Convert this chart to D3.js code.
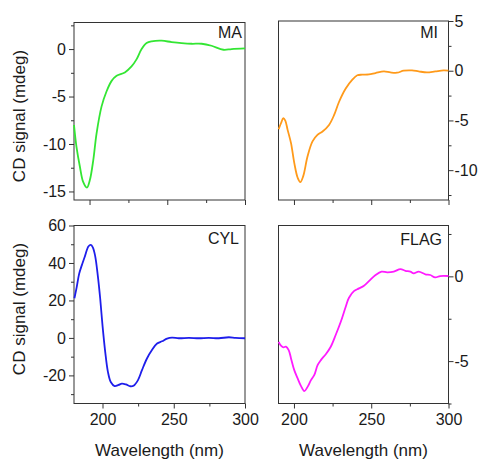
<!DOCTYPE html>
<html>
<head>
<meta charset="utf-8">
<script src="https://cdn.jsdelivr.net/npm/d3@7"></script>
<style>
  html, body { margin: 0; padding: 0; background: #fff; }
  svg { display: block; }
  text { font-family: "Liberation Sans", Arial, sans-serif; fill: #1a1a1a; }
</style>
</head>
<body>
<svg id="chart" width="479" height="462"></svg>
<script>
// ---- Data ----
const maWl = [190, 191.6, 193.8, 195.9, 198.3, 200.2, 202.4, 204.5, 207.7, 210.9, 214.2, 217.4, 222.7, 227.0, 230.3, 233.5, 236.7, 239.9, 246.4, 252.8, 259.2, 265.7, 272.1, 278.5, 286.1, 291.4, 300];
const maCd = [-8.0, -10.3, -12.4, -14.0, -14.6, -13.8, -11.7, -8.9, -6.06, -4.47, -3.35, -2.82, -2.46, -1.83, -1.06, 0.0, 0.63, 0.81, 0.88, 0.74, 0.63, 0.56, 0.56, 0.35, -0.07, 0.0, 0.07];

const miWl = [190.1, 191.6, 193.1, 194.4, 195.9, 198.1, 200.2, 202.4, 204.1, 206.0, 208.8, 212.0, 215.2, 218.5, 222.7, 226.0, 229.2, 233.5, 237.8, 241.0, 244.2, 248.5, 252.8, 258.2, 262.4, 266.7, 271.0, 276.4, 280.7, 286.1, 291.4, 296.8, 300];
const miCd = [-5.88, -5.28, -4.78, -5.02, -5.95, -7.28, -9.27, -10.76, -11.2, -10.6, -8.6, -7.1, -6.45, -6.11, -5.45, -4.45, -3.12, -1.79, -0.9, -0.46, -0.4, -0.37, -0.23, -0.07, -0.17, -0.2, 0.0, 0.03, -0.07, -0.17, -0.07, 0.03, 0.0];

const cylWl = [180.3, 181.9, 183.6, 185.4, 187.8, 190.1, 191.8, 193.2, 194.8, 196.7, 198.4, 200, 201.9, 203.8, 205.9, 208.5, 211.3, 213.6, 216.4, 219.5, 221.8, 224.9, 227.7, 231.2, 234.7, 238.3, 241.8, 245.3, 248.8, 253.5, 260.6, 267.6, 274.6, 281.7, 288.7, 293.4, 300];
const cylCd = [21.2, 27.1, 34.2, 38.6, 43.9, 48.8, 49.6, 48.3, 43.9, 33.3, 20.9, 6.7, -7.4, -18.1, -23.7, -25.7, -25.1, -24.4, -24.8, -25.8, -25.5, -22.5, -17.2, -11.0, -6.5, -3.0, -1.8, -0.35, 0.18, -0.18, 0.0, -0.18, 0.0, -0.18, 0.35, 0.0, -0.18];

const flagWl = [190.1, 191.6, 193.1, 194.8, 196.6, 198.1, 200.2, 202.4, 204.5, 206.7, 208.8, 211.0, 213.1, 215.3, 217.4, 220.6, 223.8, 227.0, 230.3, 233.5, 235.6, 238.8, 242.1, 245.3, 248.5, 252.8, 256.7, 260.3, 264.6, 268.9, 272.1, 275.3, 277.5, 280.7, 285.0, 288.2, 291.4, 294.6, 300];
const flagCd = [-3.86, -4.09, -4.19, -4.15, -4.35, -4.84, -5.53, -6.02, -6.46, -6.77, -6.52, -6.12, -5.83, -5.24, -4.94, -4.59, -4.15, -3.46, -2.68, -1.79, -1.26, -0.87, -0.71, -0.55, -0.28, 0.08, 0.28, 0.24, 0.28, 0.43, 0.33, 0.28, 0.18, 0.28, 0.12, 0.08, -0.06, 0.02, 0.02];

const panelNames = ["MA", "MI", "CYL", "FLAG"];
const xMajorTicks = [200, 250, 300];
const xMinorTicks = [225, 275];
const maYMajor = [0, -5, -10, -15], maYMinor = [2.5, -2.5, -7.5, -12.5];
const miYMajor = [5, 0, -5, -10], miYMinor = [2.5, -2.5, -7.5, -12.5];
const cylYMajor = [60, 40, 20, 0, -20], cylYMinor = [50, 30, 10, -10, -30];
const flagYMajor = [0, -5], flagYMinor = [2.5, -2.5, -7.5];
const yTitle = "CD signal (mdeg)";
const xTitle = "Wavelength (nm)";

// ---- Layout ----
const svg = d3.select("#chart");
const panels = [
  { name: panelNames[0], wl: maWl, cd: maCd, color: "#33e633", x0: 74, x1: 245, y0: 22.5, y1: 200,
    xDom: [190, 300], yDom: [-15.9, 2.8], yMajor: maYMajor, yMinor: maYMinor, side: "left", xLabels: false,
    nameDx: 3, nameDy: 15 },
  { name: panelNames[1], wl: miWl, cd: miCd, color: "#ff9a1a", x0: 278.5, x1: 448.5, y0: 21, y1: 200,
    xDom: [190, 300], yDom: [-13, 5], yMajor: miYMajor, yMinor: miYMinor, side: "right", xLabels: false,
    nameDx: 10.5, nameDy: 17 },
  { name: panelNames[2], wl: cylWl, cd: cylCd, color: "#1e1eeb", x0: 74, x1: 245, y0: 225.5, y1: 403.5,
    xDom: [180, 300], yDom: [-35, 60], yMajor: cylYMajor, yMinor: cylYMinor, side: "left", xLabels: true,
    nameDx: 6, nameDy: 18 },
  { name: panelNames[3], wl: flagWl, cd: flagCd, color: "#ff1aff", x0: 278.5, x1: 448.5, y0: 225.5, y1: 403.5,
    xDom: [190, 300], yDom: [-7.5, 3.0], yMajor: flagYMajor, yMinor: flagYMinor, side: "right", xLabels: true,
    nameDx: 6.5, nameDy: 19 }
];

const frameColor = "#333";
const fmt = d => String(d);   // plain hyphen-minus, as in the reference

panels.forEach(p => {
  const x = d3.scaleLinear().domain(p.xDom).range([p.x0, p.x1]);
  const y = d3.scaleLinear().domain(p.yDom).range([p.y1, p.y0]);
  const g = svg.append("g");

  // x axis major / minor
  const xa = g.append("g").attr("transform", `translate(0,${p.y1})`)
    .call(d3.axisBottom(x).tickValues(xMajorTicks).tickSize(5).tickPadding(5)
      .tickFormat(p.xLabels ? fmt : () => ""));
  const xm = g.append("g").attr("transform", `translate(0,${p.y1})`)
    .call(d3.axisBottom(x).tickValues(xMinorTicks).tickSize(3).tickFormat(() => ""));

  // y axis
  const ya = g.append("g");
  const ym = g.append("g");
  if (p.side === "left") {
    ya.attr("transform", `translate(${p.x0},0)`)
      .call(d3.axisLeft(y).tickValues(p.yMajor).tickSize(5).tickPadding(3).tickFormat(fmt));
    ym.attr("transform", `translate(${p.x0},0)`)
      .call(d3.axisLeft(y).tickValues(p.yMinor).tickSize(3).tickFormat(() => ""));
  } else {
    ya.attr("transform", `translate(${p.x1},0)`)
      .call(d3.axisRight(y).tickValues(p.yMajor).tickSize(5).tickPadding(1).tickFormat(fmt));
    ym.attr("transform", `translate(${p.x1},0)`)
      .call(d3.axisRight(y).tickValues(p.yMinor).tickSize(3).tickFormat(() => ""));
  }
  [xa, xm, ya, ym].forEach(a => {
    a.select(".domain").remove();
    a.selectAll("line").attr("stroke", frameColor).attr("stroke-width", 1);
    a.selectAll("text").attr("font-size", 16).attr("fill", "#1a1a1a")
      .style("font-family", '"Liberation Sans", Arial, sans-serif');
  });

  // frame
  g.append("rect")
    .attr("x", p.x0).attr("y", p.y0)
    .attr("width", p.x1 - p.x0).attr("height", p.y1 - p.y0)
    .attr("fill", "none").attr("stroke", frameColor).attr("stroke-width", 1);

  // curve
  const pts = p.wl.map((w, i) => [w, p.cd[i]]);
  const line = d3.line().x(d => x(d[0])).y(d => y(d[1])).curve(d3.curveCatmullRom.alpha(0.5));
  g.append("path").datum(pts)
    .attr("d", line)
    .attr("fill", "none").attr("stroke", p.color).attr("stroke-width", 1.8)
    .attr("stroke-linejoin", "round");

  // panel name
  g.append("text")
    .attr("x", p.x1 - p.nameDx)
    .attr("y", p.y0 + p.nameDy)
    .attr("text-anchor", "end")
    .attr("font-size", 16)
    .text(p.name);
});

// y titles
[116, 309].forEach(cy => {
  svg.append("text")
    .attr("transform", `translate(25,${cy}) rotate(-90)`)
    .attr("text-anchor", "middle")
    .attr("font-size", 17)
    .text(yTitle);
});
// x titles
[159.5, 363.5].forEach(cx => {
  svg.append("text")
    .attr("x", cx).attr("y", 456)
    .attr("text-anchor", "middle")
    .attr("font-size", 17)
    .text(xTitle);
});
</script>
</body>
</html>
